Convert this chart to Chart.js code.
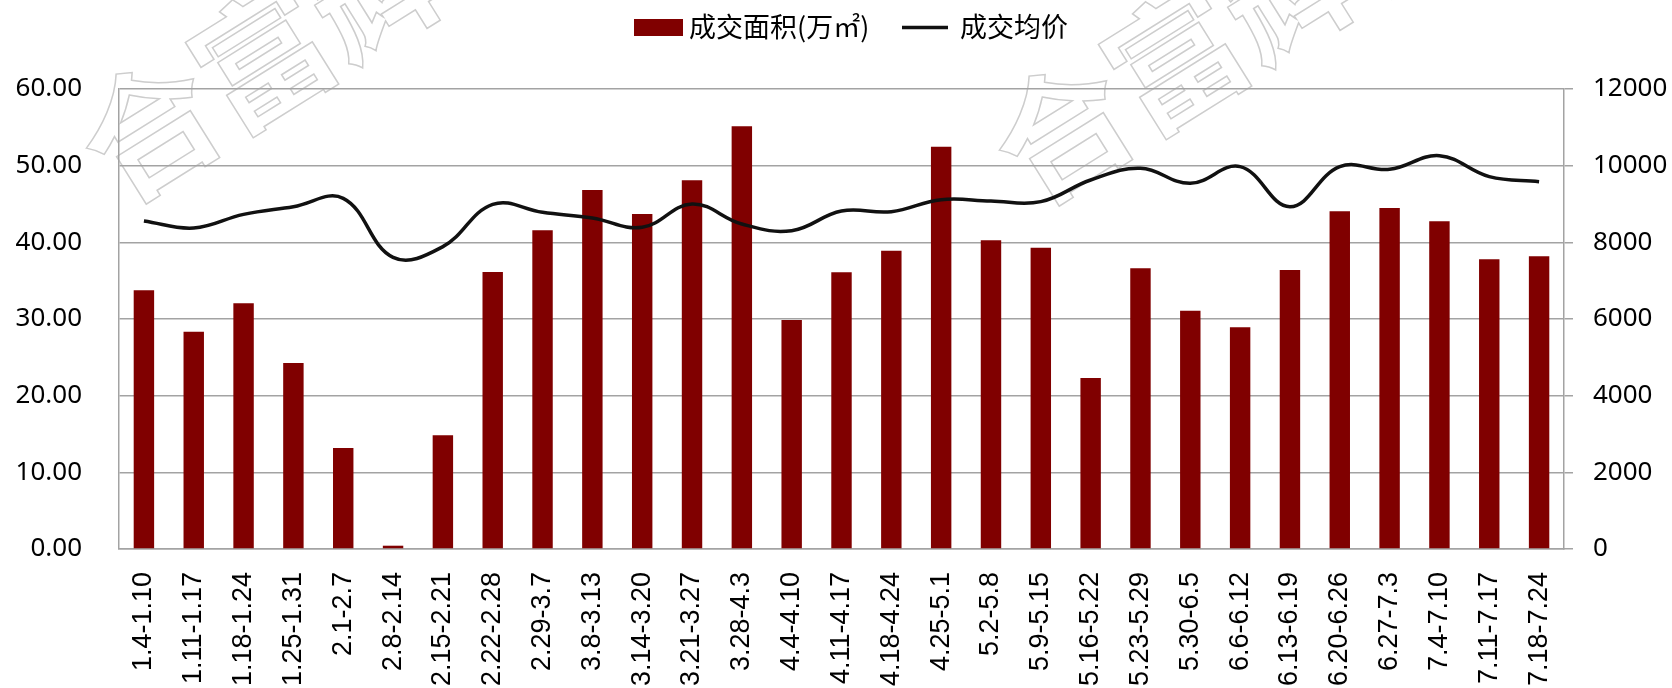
<!DOCTYPE html>
<html>
<head>
<meta charset="utf-8">
<script src="https://cdn.jsdelivr.net/npm/chart.js@4/dist/chart.umd.min.js"></script>
<style>
  html, body { margin: 0; padding: 0; background: #ffffff; }
  #wrap { width: 1672px; height: 688px; position: relative; }
</style>
</head>
<body>
<div id="wrap"><canvas id="c" width="1672" height="688"></canvas></div>
<script>
const categories = ['1.4-1.10', '1.11-1.17', '1.18-1.24', '1.25-1.31', '2.1-2.7', '2.8-2.14', '2.15-2.21', '2.22-2.28', '2.29-3.7', '3.8-3.13', '3.14-3.20', '3.21-3.27', '3.28-4.3', '4.4-4.10', '4.11-4.17', '4.18-4.24', '4.25-5.1', '5.2-5.8', '5.9-5.15', '5.16-5.22', '5.23-5.29', '5.30-6.5', '6.6-6.12', '6.13-6.19', '6.20-6.26', '6.27-7.3', '7.4-7.10', '7.11-7.17', '7.18-7.24'];
const areaValues = [33.74, 28.35, 32.04, 24.26, 13.17, 0.43, 14.83, 36.13, 41.57, 46.83, 43.70, 48.09, 55.13, 29.87, 36.09, 38.91, 52.48, 40.26, 39.30, 22.30, 36.61, 31.09, 28.91, 36.39, 44.04, 44.48, 42.74, 37.78, 38.17];
const priceValues = [8557, 8374, 8730, 8930, 9148, 7609, 7887, 8991, 8783, 8635, 8391, 9000, 8478, 8304, 8817, 8800, 9113, 9078, 9061, 9626, 9930, 9539, 9974, 8930, 9974, 9904, 10261, 9713, 9583];
const seriesNames = ['成交面积(万㎡)', '成交均价'];
const leftTicks = [0, 10, 20, 30, 40, 50, 60];
const rightTicks = [0, 2000, 4000, 6000, 8000, 10000, 12000];
const watermarkText = '合富辉煌';

const BAR_COLOR = '#800000';
const LINE_COLOR = '#111111';
const GRID_COLOR = '#a3a3a3';

const watermarkPlugin = {
  id: 'watermark',
  beforeDraw(chart) {
    const ctx = chart.ctx;
    ctx.save();
    ctx.font = 'bold 134px "Noto Sans CJK SC"';
    ctx.textBaseline = 'middle';
    ctx.textAlign = 'left';
    ctx.strokeStyle = '#cdcdcd';
    ctx.lineWidth = 1.5;
    [[92, 164], [1005, 166]].forEach(([x, y]) => {
      ctx.save();
      ctx.translate(x, y);
      ctx.rotate(-32 * Math.PI / 180);
      ctx.strokeText(watermarkText, 0, 0);
      ctx.restore();
    });
    ctx.restore();
  }
};

const legendPlugin = {
  id: 'customLegend',
  afterDraw(chart) {
    const ctx = chart.ctx;
    ctx.save();
    ctx.font = '27px "Noto Sans CJK SC"';
    ctx.textBaseline = 'middle';
    ctx.textAlign = 'left';
    ctx.fillStyle = BAR_COLOR;
    ctx.fillRect(634, 19, 49, 17);
    ctx.fillStyle = '#000';
    ctx.fillText(chart.data.datasets[0].label, 689, 27);
    ctx.strokeStyle = LINE_COLOR;
    ctx.lineWidth = 3.5;
    ctx.beginPath();
    ctx.moveTo(902, 27.5);
    ctx.lineTo(948, 27.5);
    ctx.stroke();
    ctx.fillText(chart.data.datasets[1].label, 960, 27);
    ctx.restore();
  }
};

new Chart(document.getElementById('c'), {
  type: 'bar',
  data: {
    labels: categories,
    datasets: [
      {
        type: 'bar',
        label: seriesNames[0],
        data: areaValues,
        backgroundColor: BAR_COLOR,
        borderWidth: 0,
        barPercentage: 0.41,
        categoryPercentage: 1.0,
        yAxisID: 'y',
        order: 1
      },
      {
        type: 'line',
        label: seriesNames[1],
        data: priceValues,
        borderColor: LINE_COLOR,
        borderWidth: 3.5,
        pointRadius: 0,
        tension: 0.4,
        fill: false,
        yAxisID: 'y1',
        order: 0
      }
    ]
  },
  options: {
    responsive: false,
    animation: false,
    devicePixelRatio: 1,
    layout: { padding: { top: 89, left: 0, right: 0, bottom: 0 } },
    plugins: {
      legend: { display: false },
      tooltip: { enabled: false }
    },
    scales: {
      x: {
        grid: { display: false, drawTicks: false },
        border: { display: true, color: GRID_COLOR, width: 1.5 },
        ticks: {
          autoSkip: false,
          minRotation: 90,
          maxRotation: 90,
          padding: 23,
          color: '#000',
          font: { family: '"Liberation Sans", Arial', size: 27 }
        },
        afterFit(s) { s.height = 139; }
      },
      y: {
        position: 'left',
        min: leftTicks[0],
        max: leftTicks[leftTicks.length - 1],
        afterBuildTicks(s) { s.ticks = leftTicks.map(v => ({ value: v })); },
        grid: { color: GRID_COLOR, lineWidth: 1.5, drawTicks: false },
        border: { display: true, color: GRID_COLOR, width: 1.5 },
        ticks: {
          padding: 37,
          color: '#000',
          font: { family: '"Noto Sans", "Open Sans"', size: 26 },
          callback: v => Number(v).toFixed(2)
        },
        afterFit(s) { s.width = 119; }
      },
      y1: {
        position: 'right',
        min: rightTicks[0],
        max: rightTicks[rightTicks.length - 1],
        afterBuildTicks(s) { s.ticks = rightTicks.map(v => ({ value: v })); },
        grid: { drawOnChartArea: false, color: GRID_COLOR, lineWidth: 1.5, drawTicks: true, tickLength: 9 },
        border: { display: true, color: GRID_COLOR, width: 1.5 },
        ticks: {
          padding: 20,
          color: '#000',
          font: { family: '"Noto Sans", "Open Sans"', size: 26 },
          callback: v => String(v)
        },
        afterFit(s) { s.width = 108; }
      }
    }
  },
  plugins: [watermarkPlugin, legendPlugin]
});
</script>
</body>
</html>
